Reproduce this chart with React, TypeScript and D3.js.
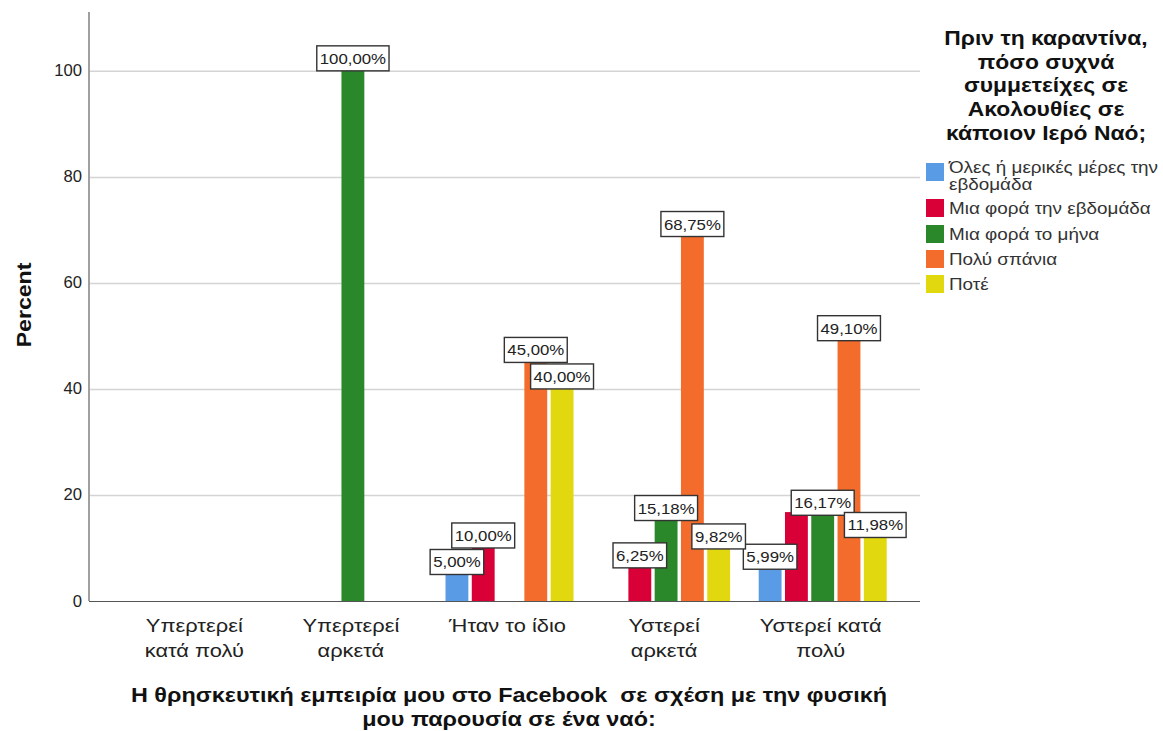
import React, { useEffect, useRef } from "react";
import { select, scaleBand, scaleLinear, axisLeft } from "d3";

const categories = [
  ["Υπερτερεί", "κατά πολύ"],
  ["Υπερτερεί", "αρκετά"],
  ["Ήταν το ίδιο"],
  ["Υστερεί", "αρκετά"],
  ["Υστερεί κατά", "πολύ"],
];

const seriesNames = [
  ["Όλες ή μερικές μέρες την", "εβδομάδα"],
  ["Μια φορά την εβδομάδα"],
  ["Μια φορά το μήνα"],
  ["Πολύ σπάνια"],
  ["Ποτέ"],
];

const seriesColors = ["#5A9BE6", "#D80037", "#2A882B", "#F36C2B", "#E2D810"];

// one array per series, one value per category (null = no bar)
const allOrSomeDays = [null, null, 5.0, null, 5.99];
const oncePerWeek = [null, null, 10.0, 6.25, 16.77];
const oncePerMonth = [null, 100.0, null, 15.18, 16.17];
const veryRarely = [null, null, 45.0, 68.75, 49.1];
const never = [null, null, 40.0, 9.82, 11.98];
const seriesValues = [allOrSomeDays, oncePerWeek, oncePerMonth, veryRarely, never];

// labels SPSS dropped because of overlap: [category index, series index]
const hiddenLabels = [[4, 1]];

const yTicks = [0, 20, 40, 60, 80, 100];
const legendTitle = [
  "Πριν τη καραντίνα,",
  "πόσο συχνά",
  "συμμετείχες σε",
  "Ακολουθίες σε",
  "κάποιον Ιερό Ναό;",
];
const xTitle = [
  "Η θρησκευτική εμπειρία μου στο Facebook  σε σχέση με την φυσική",
  "μου παρουσία σε ένα ναό:",
];

const FONT = "'Liberation Sans', Arial, sans-serif";

export default function App() {
  const svgRef = useRef<SVGSVGElement>(null);

  useEffect(() => {
    if (!svgRef.current) return;
    const svg = select(svgRef.current);
    svg.selectAll("*").remove();

    const width = 1163;
    const height = 731;
    const plotLeft = 89;
    const plotRight = 920;
    const plotTop = 12;
    const plotBottom = 601;

    svg
      .attr("width", width)
      .attr("height", height)
      .style("font-family", FONT);

    svg.append("rect").attr("width", width).attr("height", height).attr("fill", "#fff");

    // the SPSS export is stretched sideways, so text gets a horizontal scale
    const addText = (
      x: number,
      y: number,
      s: string,
      size: number,
      sx: number,
      opts: { anchor?: string; bold?: boolean; fill?: string } = {}
    ) => {
      const t = svg
        .append("text")
        .attr("transform", `translate(${x},${y}) scale(${sx},1)`)
        .attr("text-anchor", opts.anchor || "start")
        .attr("font-size", size)
        .attr("font-weight", opts.bold ? "bold" : "normal")
        .attr("fill", opts.fill || "#222")
        .style("white-space", "pre")
        .text(s);
      return t;
    };

    const y = scaleLinear().domain([0, 111.1]).range([plotBottom, plotTop]);
    const x0 = scaleBand<number>()
      .domain(categories.map((_, i) => i))
      .range([116, 899])
      .padding(0);
    const x1 = scaleBand<number>()
      .domain(seriesNames.map((_, i) => i))
      .range([0, 128])
      .paddingInner(0.13);

    // gridlines
    svg
      .append("g")
      .attr("transform", `translate(${plotLeft},0)`)
      .call(
        axisLeft(y)
          .tickValues(yTicks.slice(1))
          .tickSize(-(plotRight - plotLeft))
          .tickFormat(() => "")
      )
      .call((g) => g.select(".domain").remove())
      .selectAll("line")
      .attr("stroke", "#d4d4d4")
      .attr("stroke-width", 1.5);

    // y tick labels
    yTicks.forEach((v) => {
      addText(82, y(v) + 5.5, String(v), 16, 1.04, { anchor: "end" });
    });

    svg
      .append("line")
      .attr("x1", plotLeft)
      .attr("x2", plotLeft)
      .attr("y1", plotTop)
      .attr("y2", plotBottom)
      .attr("stroke", "#a0a0a0")
      .attr("stroke-width", 2);

    // bars
    const bars: { cx: number; top: number; v: number; ci: number; si: number }[] = [];
    seriesValues.forEach((vals, si) => {
      vals.forEach((v, ci) => {
        if (v == null) return;
        const gx = (x0(ci) as number) + x0.bandwidth() / 2 - 62;
        const bx = gx + (x1(si) as number);
        svg
          .append("rect")
          .attr("x", bx)
          .attr("y", y(v))
          .attr("width", x1.bandwidth())
          .attr("height", plotBottom - y(v))
          .attr("fill", seriesColors[si]);
        bars.push({ cx: bx + x1.bandwidth() / 2, top: y(v), v, ci, si });
      });
    });

    // x axis line
    svg
      .append("line")
      .attr("x1", plotLeft)
      .attr("x2", plotRight)
      .attr("y1", plotBottom + 0.5)
      .attr("y2", plotBottom + 0.5)
      .attr("stroke", "#555")
      .attr("stroke-width", 1);

    // value labels
    bars.forEach((b) => {
      if (hiddenLabels.some(([c, s]) => c === b.ci && s === b.si)) return;
      const txt = b.v.toFixed(2).replace(".", ",") + "%";
      const sx = 1.12;
      const rect = svg.append("rect");
      const t = addText(b.cx, b.top - 7, txt, 15, sx, { anchor: "middle" });
      const w = (t.node() as SVGTextElement).getComputedTextLength() * sx + 6;
      rect
        .attr("x", b.cx - w / 2)
        .attr("y", b.top - 25)
        .attr("width", w)
        .attr("height", 25)
        .attr("fill", "#fff")
        .attr("stroke", "#333")
        .attr("stroke-width", 1.4);
    });

    // category labels
    categories.forEach((lines, ci) => {
      const cx = (x0(ci) as number) + x0.bandwidth() / 2;
      lines.forEach((ln, li) => {
        addText(cx, 632 + li * 25, ln, 19, 1.15, { anchor: "middle" });
      });
    });

    // axis titles
    xTitle.forEach((ln, i) => {
      addText(509, 702 + i * 24, ln, 20, 1.17, { anchor: "middle", bold: true, fill: "#111" });
    });

    svg
      .append("text")
      .attr("transform", "translate(31,305) rotate(-90) scale(1.1,1)")
      .attr("text-anchor", "middle")
      .attr("font-size", 21)
      .attr("font-weight", "bold")
      .attr("fill", "#111")
      .text("Percent");

    // legend
    legendTitle.forEach((ln, i) => {
      addText(1046, 45 + i * 23.7, ln, 21, 1.09, { anchor: "middle", bold: true, fill: "#111" });
    });

    const legendTops = [163, 199, 225, 250, 275];
    seriesNames.forEach((lines, si) => {
      const top = legendTops[si];
      svg
        .append("rect")
        .attr("x", 926)
        .attr("y", top)
        .attr("width", 18)
        .attr("height", 18)
        .attr("fill", seriesColors[si]);
      lines.forEach((ln, li) => {
        addText(949, top + (lines.length > 1 ? 10 : 15) + li * 17, ln, 16, 1.18, { fill: "#333" });
      });
    });
  }, []);

  return (
    <svg
      ref={svgRef}
      style={{ position: "absolute", left: 0, top: 0, display: "block" }}
    ></svg>
  );
}
